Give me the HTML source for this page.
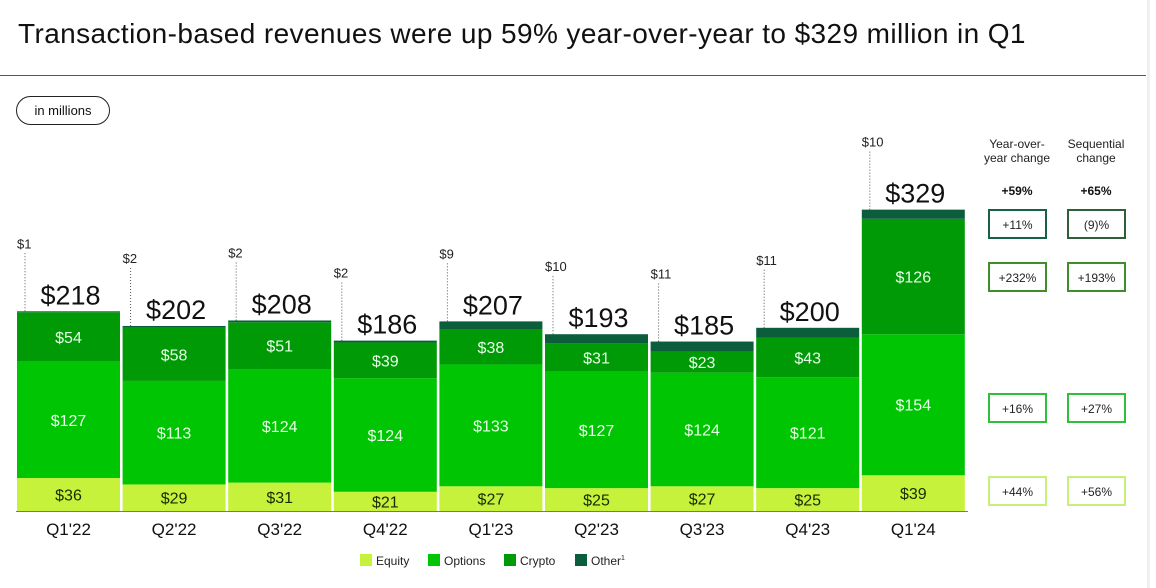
<!DOCTYPE html>
<html><head><meta charset="utf-8"><style>
body{margin:0;background:#fff;font-family:"Liberation Sans",sans-serif;}
#wrap{position:relative;width:1156px;height:588px;overflow:hidden;}
svg text{font-family:"Liberation Sans",sans-serif;}
</style></head><body>
<div id="wrap">
<svg id="chart" width="1156" height="588">
<text x="18" y="43" font-size="28" letter-spacing="0.4" fill="#111">Transaction-based revenues were up 59% year-over-year to $329 million in Q1</text>
<line x1="0" y1="75.5" x2="1146" y2="75.5" stroke="#555" stroke-width="1"/>
<line x1="1148.5" y1="0" x2="1148.5" y2="588" stroke="#f0f0f0" stroke-width="3"/>
<rect x="16.5" y="96.5" width="93" height="28" rx="14" fill="#fff" stroke="#222"/>
<text x="63" y="115" font-size="13" text-anchor="middle" fill="#111">in millions</text>
<g id="bars"></g>
<g id="changes"></g>
</svg>
</div>
<script>
const categories=["Q1'22","Q2'22","Q3'22","Q4'22","Q1'23","Q2'23","Q3'23","Q4'23","Q1'24"];
const equity=[36,29,31,21,27,25,27,25,39];
const options=[127,113,124,124,133,127,124,121,154];
const crypto=[54,58,51,39,38,31,23,43,126];
const other=[1,2,2,2,9,10,11,11,10];
const totals=[218,202,208,186,207,193,185,200,329];
const yoyChange=["+11%","+232%","+16%","+44%"];
const seqChange=["(9)%","+193%","+27%","+56%"];

const NS="http://www.w3.org/2000/svg";
const base=511, scale=0.916, x0=17, pitch=105.6, bw=103;
function yPos(v){return base-v*scale;}
function xPos(i){return x0+i*pitch;}
function mk(tag,attrs,parent){const e=document.createElementNS(NS,tag);for(const k in attrs)e.setAttribute(k,attrs[k]);parent.appendChild(e);return e;}
const g=document.getElementById('bars');
const series=[{name:'equity',vals:equity,color:'#c6f23c',txt:'#1a2a00'},{name:'options',vals:options,color:'#00c502',txt:'#e8ffe8'},{name:'crypto',vals:crypto,color:'#009a07',txt:'#e8ffe8'},{name:'other',vals:other,color:'#0b5d3b',txt:null}];
categories.forEach((c,i)=>{
  let cum=0;const x=xPos(i);
  series.forEach(s=>{
    const v=s.vals[i];const y1=yPos(cum+v),y0=yPos(cum);
    const r=mk('rect',{x:x,y:y1,width:bw,height:y0-y1,fill:s.color},g);
    
    
    if(s.txt){
      const t=mk('text',{x:x+bw/2,y:(y1+y0)/2+6,'font-size':16,'text-anchor':'middle',fill:s.txt},g);
      t.textContent='$'+v;
      
      
    }
    cum+=v;
  });
  const top=yPos(cum);
  const tt=mk('text',{x:x+bw/2+2,y:top-7,'font-size':27,'text-anchor':'middle',fill:'#111'},g);
  tt.textContent='$'+totals[i];
  
  
  const ln=mk('line',{x1:x+8,y1:top-58,x2:x+8,y2:top,stroke:'#555','stroke-dasharray':'1,2'},g);
  
  
  const ot=mk('text',{x:x,y:top-63,'font-size':13,fill:'#222'},g);
  ot.textContent='$'+other[i];
  
  
  const ct=mk('text',{x:x+bw/2,y:535,'font-size':17,'text-anchor':'middle',fill:'#111'},g);
  ct.textContent=c;
  
  
});
const ax=mk('line',{x1:16,y1:base+0.5,x2:968,y2:base+0.5,stroke:'#777'},g);


const leg=[['Equity','#c6f23c',360],['Options','#00c502',428],['Crypto','#009a07',504],['Other','#0b5d3b',575]];
leg.forEach(l=>{
  const r=mk('rect',{x:l[2],y:554,width:12,height:12,fill:l[1]},g);
  
  
  const t=mk('text',{x:l[2]+16,y:565,'font-size':12,fill:'#222'},g);
  t.textContent=l[0];
  
  
});
const sup=mk('text',{x:621,y:560,'font-size':7,fill:'#222'},g);sup.textContent='1';


const cg=document.getElementById('changes');
const hdr=[[1017,'Year-over-','year change','+59%'],[1096,'Sequential','change','+65%']];
hdr.forEach((h,j)=>{
  const a=mk('text',{x:h[0],y:148,'font-size':12,'text-anchor':'middle',fill:'#222'},cg);a.textContent=h[1];
  
  
  const b=mk('text',{x:h[0],y:162,'font-size':12,'text-anchor':'middle',fill:'#222'},cg);b.textContent=h[2];
  
  
  const c=mk('text',{x:h[0],y:195,'font-size':12,'font-weight':'bold','text-anchor':'middle',fill:'#111'},cg);c.textContent=h[3];
  
  
});
const rowY=[209,262,393,476];
const rowCol=['#17604a','#3e8f2a','#2fbf3a','#c6f07a'];
[yoyChange,seqChange].forEach((arr,j)=>{
  const bx=j?1067:988;
  arr.forEach((v,k)=>{
    const r=mk('rect',{x:bx+1,y:rowY[k]+1,width:57,height:28,fill:'#fff',stroke:j===1&&k===0?'#2f5f3a':rowCol[k],'stroke-width':2},cg);
    
    
    const t=mk('text',{x:bx+29.5,y:rowY[k]+20,'font-size':12,'text-anchor':'middle',fill:'#222'},cg);
    t.textContent=v;
    
    
  });
});
</script>
</body></html>
